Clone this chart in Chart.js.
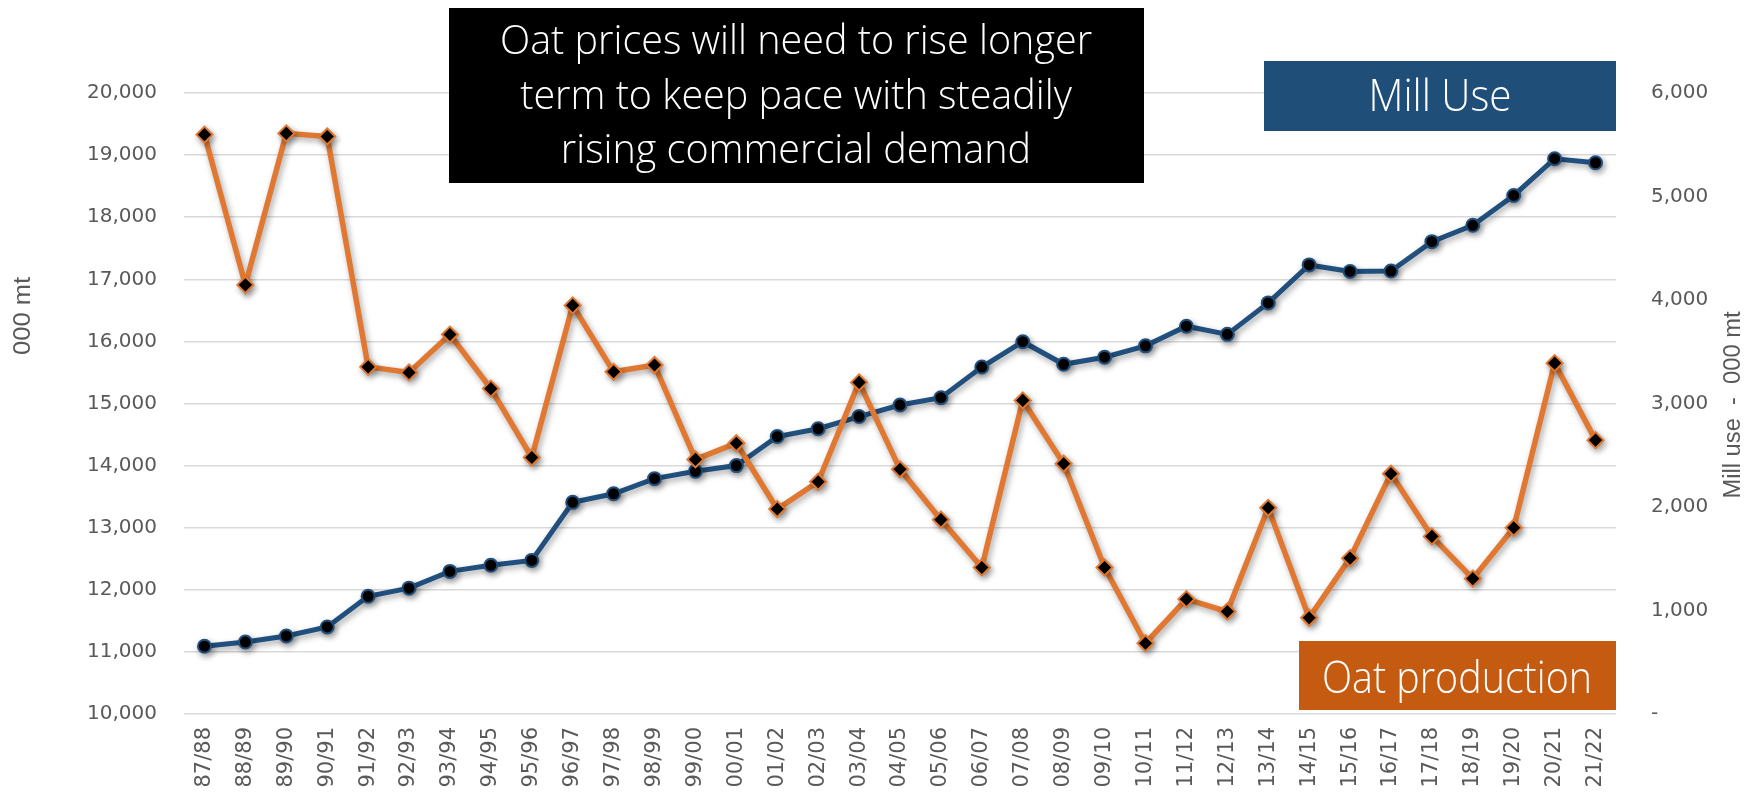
<!DOCTYPE html>
<html>
<head>
<meta charset="utf-8">
<script src="https://cdn.jsdelivr.net/npm/chart.js@4.4.1/dist/chart.umd.min.js"></script>
<style>
  html, body { margin: 0; padding: 0; background: #fff; }
  #wrap { position: relative; width: 1754px; height: 798px; }
</style>
</head>
<body>
<div id="wrap"><canvas id="chart"></canvas></div>
<script>
const seasons = ['87/88','88/89','89/90','90/91','91/92','92/93','93/94','94/95','95/96','96/97',
  '97/98','98/99','99/00','00/01','01/02','02/03','03/04','04/05','05/06','06/07',
  '07/08','08/09','09/10','10/11','11/12','12/13','13/14','14/15','15/16','16/17',
  '17/18','18/19','19/20','20/21','21/22'];

// oat production, 000 mt (left axis)
const oatProduction = [19330, 16910, 19350, 19300, 15590, 15500, 16110, 15240, 14130, 16580,
  15510, 15620, 14100, 14360, 13300, 13740, 15340, 13940, 13130, 12360,
  15050, 14030, 12360, 11140, 11850, 11650, 13320, 11550, 12510, 13870,
  12860, 12180, 13000, 15650, 14410];

// mill use, 000 mt (right axis)
const millUse = [655, 695, 754, 841, 1137, 1216, 1378, 1437, 1484, 2045,
  2128, 2274, 2345, 2400, 2681, 2756, 2874, 2985, 3056, 3352,
  3597, 3379, 3447, 3557, 3747, 3668, 3972, 4339, 4276, 4280,
  4564, 4722, 5010, 5365, 5326];

const leftAxis = { min: 10000, max: 20000, step: 1000 };
const rightAxis = { min: 0, max: 6000, step: 1000 };

const titleLines = ['Oat prices will need to rise longer', 'term to keep pace with steadily', 'rising commercial demand'];

const BLUE = '#21507e';
const ORANGE = '#e07832';
const GREY = '#595959';

// draw text squeezed/stretched to a given width
function fitText(c, text, x, y, width, angle) {
  const w = c.measureText(text).width;
  c.save();
  c.translate(x, y);
  if (angle) c.rotate(angle);
  c.scale(width / w, 1);
  c.fillText(text, 0, 0);
  c.restore();
}

const extras = {
  id: 'extras',
  beforeDatasetsDraw(chart) {
    const c = chart.ctx;
    c.save();
    c.shadowColor = 'rgba(0,0,0,0.35)';
    c.shadowBlur = 6;
    c.shadowOffsetX = 2;
    c.shadowOffsetY = 3;
  },
  afterDatasetsDraw(chart) {
    chart.ctx.restore();
  },
  afterDraw(chart) {
    const c = chart.ctx;
    c.save();

    // axis titles
    c.fillStyle = GREY;
    c.font = '23px "Liberation Sans Narrow", "Liberation Sans", sans-serif';
    c.textAlign = 'center';
    c.textBaseline = 'middle';
    fitText(c, '000 mt', 24, 316, 78, -Math.PI / 2);
    fitText(c, 'Mill use  -  000 mt', 1734, 405, 187, -Math.PI / 2);

    // headline box
    c.fillStyle = '#000';
    c.fillRect(449, 8, 695, 175);
    c.fillStyle = '#fff';
    c.textBaseline = 'alphabetic';
    c.font = '300 41px "Open Sans", sans-serif';
    const s = 592 / c.measureText(titleLines[0]).width;
    [54, 109, 163].forEach((y, i) => {
      c.save();
      c.translate(796, y);
      c.scale(s, 1);
      c.fillText(titleLines[i], 0, 0);
      c.restore();
    });

    // series labels
    c.fillStyle = '#1f4e79';
    c.fillRect(1264, 61, 352, 70);
    c.fillStyle = '#c55a11';
    c.fillRect(1299, 641, 317, 69);
    c.fillStyle = '#fff';
    c.font = '300 44px "Open Sans", sans-serif';
    fitText(c, 'Mill Use', 1440, 111, 143);
    fitText(c, 'Oat production', 1457, 693, 270);

    c.restore();
  }
};

new Chart(document.getElementById('chart'), {
  type: 'line',
  data: {
    labels: seasons,
    datasets: [
      {
        label: 'Oat production',
        data: oatProduction,
        yAxisID: 'y',
        borderColor: ORANGE,
        borderWidth: 5.5,
        tension: 0,
        pointStyle: 'rectRot',
        pointRadius: 8,
        pointBackgroundColor: '#000',
        pointBorderColor: ORANGE,
        pointBorderWidth: 2
      },
      {
        label: 'Mill Use',
        data: millUse,
        yAxisID: 'y1',
        borderColor: BLUE,
        borderWidth: 5,
        tension: 0,
        pointStyle: 'circle',
        pointRadius: 6.5,
        pointBackgroundColor: '#000',
        pointBorderColor: BLUE,
        pointBorderWidth: 2
      }
    ]
  },
  options: {
    responsive: true,
    maintainAspectRatio: false,
    animation: false,
    layout: { padding: { top: 93, left: 0, right: 0, bottom: 0 } },
    plugins: { legend: { display: false }, tooltip: { enabled: false } },
    scales: {
      x: {
        offset: true,
        grid: { display: false, drawTicks: false },
        border: { display: false },
        ticks: {
          color: GREY,
          font: { family: 'DejaVu Sans', size: 21 },
          minRotation: 90,
          maxRotation: 90,
          autoSkip: false,
          padding: 13
        },
        afterFit(scale) { scale.height = 84; }
      },
      y: {
        position: 'left',
        min: leftAxis.min,
        max: leftAxis.max,
        grid: { color: '#d9d9d9', lineWidth: 1.5, drawTicks: false },
        border: { display: false },
        ticks: {
          stepSize: leftAxis.step,
          color: GREY,
          font: { family: 'DejaVu Sans', size: 20 },
          padding: 27,
          callback: v => v.toLocaleString('en-US')
        },
        afterFit(scale) { scale.width = 184; }
      },
      y1: {
        position: 'right',
        min: rightAxis.min,
        max: rightAxis.max,
        grid: { display: false, drawTicks: false },
        border: { display: false },
        ticks: {
          stepSize: rightAxis.step,
          color: GREY,
          font: { family: 'DejaVu Sans', size: 20 },
          padding: 35,
          callback: v => v === 0 ? '-' : v.toLocaleString('en-US')
        },
        afterFit(scale) { scale.width = 138; }
      }
    }
  },
  plugins: [extras]
});
</script>
</body>
</html>
